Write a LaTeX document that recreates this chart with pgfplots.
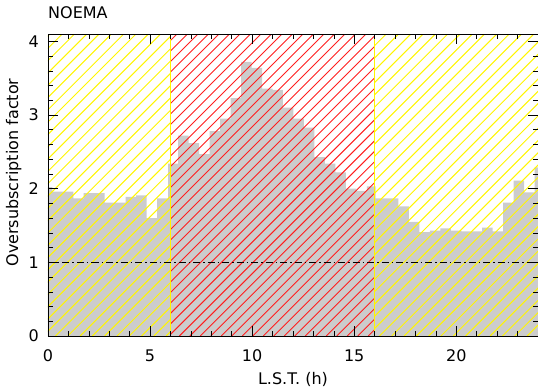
\documentclass[border=0pt]{standalone}
\usepackage{pgfplots}
\pgfplotsset{compat=1.18}
\usepackage{fontspec}
\setmainfont{DejaVu Sans}
\definecolor{barfill}{RGB}{204,204,204}
\definecolor{hatchyellow}{RGB}{255,245,0}
\definecolor{hatchred}{RGB}{255,30,30}
\begin{document}
\begin{tikzpicture}
\begin{axis}[
  at={(0,0)}, anchor=south west,
  scale only axis, width=490pt, height=302pt,
  xmin=0, xmax=24, ymin=0, ymax=4.1,
  xtick={0,5,10,15,20}, ytick={0,1,2,3,4},
  minor xtick={1,2,3,4,6,7,8,9,11,12,13,14,16,17,18,19,21,22,23},
  minor ytick={0.2,0.4,0.6,0.8,1.2,1.4,1.6,1.8,2.2,2.4,2.6,2.8,3.2,3.4,3.6,3.8},
  tick align=inside, major tick length=10pt, minor tick length=5pt,
  tick style={black, line width=0.6pt},
  axis line style={black, line width=0.8pt},
  axis on top=true,
  /pgf/number format/assume math mode=true,
  tick label style={font=\fontsize{16}{19}\selectfont},
  xticklabel style={yshift=-10pt},
  yticklabel style={xshift=-5.7pt},
  label style={font=\fontsize{16}{19}\selectfont},
  xlabel={L.S.T. (h)},
  ylabel={Oversubscription factor},
  xlabel style={at={(axis description cs:0.5,-0.159)}, anchor=base},
  ylabel style={at={(axis description cs:-0.0612,0.5414)}, anchor=base, rotate=0},
  title={NOEMA},
  title style={font=\fontsize{16}{19}\selectfont, at={(axis description cs:0,1.032)}, anchor=base west, inner sep=0pt},
]
% histogram (step plot)
\addplot[const plot, fill=barfill, draw=none, forget plot] coordinates {
(0,2.02) (0.21,1.96) (0.724,1.96) (1.238,1.87) (1.751,1.94) (2.265,1.94)
(2.778,1.81) (3.292,1.81) (3.806,1.89) (4.319,1.91) (4.833,1.60) (5.346,1.87)
(5.88,2.34) (6.374,2.72) (6.887,2.62) (7.401,2.47) (7.914,2.78) (8.428,2.95)
(8.942,3.23) (9.455,3.72) (9.969,3.64) (10.482,3.36) (10.996,3.34) (11.51,3.10)
(12.023,2.95) (12.537,2.83) (13.05,2.43) (13.564,2.34) (14.078,2.22) (14.591,2.00)
(15.105,1.97) (15.618,2.03) (16.05,1.87) (16.646,1.87) (17.159,1.76) (17.673,1.55)
(18.186,1.41) (18.7,1.43) (19.214,1.46) (19.727,1.43) (20.241,1.42) (20.754,1.42)
(21.268,1.47) (21.782,1.42) (22.295,1.81) (22.809,2.11) (23.322,1.95) (23.836,2.29)
(24,2.29)
} \closedcycle;
% hatched regions: red 6-16
\begin{scope}
\clip (axis cs:6,0) rectangle (axis cs:16,4.1);
\pgfplotsinvokeforeach{-9.5,-8.986,...,16.2}{
  \draw[hatchred, line width=0.9pt] (axis cs:#1,0) -- ++(320pt,320pt);
}
\end{scope}
% yellow 0-6
\begin{scope}
\clip (axis cs:0,0) rectangle (axis cs:6,4.1);
\pgfplotsinvokeforeach{-15.3,-14.6975,...,6.3}{
  \draw[hatchyellow, line width=1pt] (axis cs:#1,0) -- ++(320pt,320pt);
}
\end{scope}
% yellow 16-24
\begin{scope}
\clip (axis cs:16,0) rectangle (axis cs:24,4.1);
\pgfplotsinvokeforeach{0.57,1.1725,...,24.3}{
  \draw[hatchyellow, line width=1pt] (axis cs:#1,0) -- ++(320pt,320pt);
}
\end{scope}
% region borders
\addplot[hatchred, line width=0.8pt, forget plot] coordinates {(6,4.1) (16,4.1)};
\addplot[hatchyellow, line width=1.4pt, forget plot] coordinates {(6,0) (6,4.1)};
\addplot[hatchyellow, line width=1.2pt, forget plot] coordinates {(16,0) (16,4.1)};
% reference line
\addplot[black, line width=0.8pt, dash pattern=on 7pt off 3pt on 1.5pt off 3pt, forget plot]
  coordinates {(0,1) (24,1)};
\end{axis}
\pgfresetboundingbox
\path (-48pt,-53pt) rectangle (490pt,336pt);
\end{tikzpicture}
\end{document}
